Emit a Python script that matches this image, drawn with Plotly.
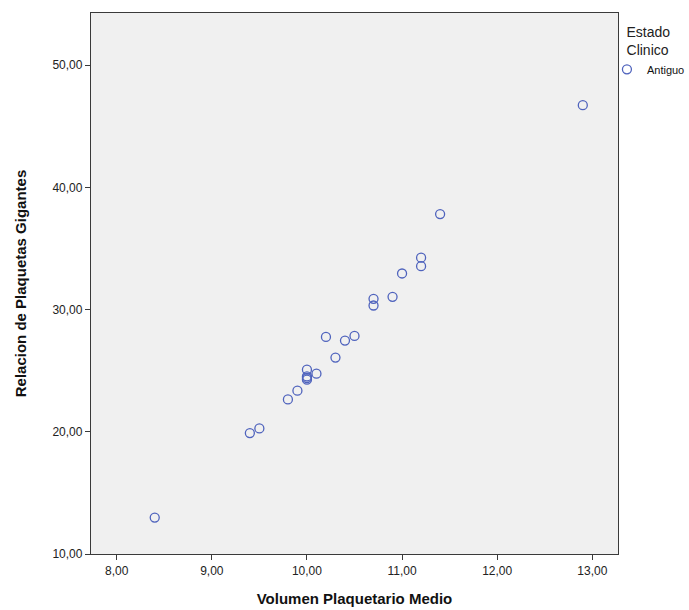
import plotly.graph_objects as go

# Data
volumen_plaquetario_medio = [8.4, 9.4, 9.5, 9.8, 9.9, 10.0, 10.0, 10.0, 10.1, 10.0,
                             10.3, 10.2, 10.4, 10.5, 10.7, 10.7, 10.9, 11.0, 11.2, 11.2,
                             11.4, 12.9]
relacion_plaquetas_gigantes = [12.98, 19.89, 20.27, 22.65, 23.36, 24.26, 24.53, 24.4, 24.75, 25.08,
                               26.07, 27.76, 27.46, 27.84, 30.33, 30.88, 31.04, 32.95, 33.55, 34.24,
                               37.81, 46.72]
serie = "Antiguo"
legend_title = "Estado<br>Clinico"

x_tickvals = [8, 9, 10, 11, 12, 13]
x_ticktext = ["8,00", "9,00", "10,00", "11,00", "12,00", "13,00"]
y_tickvals = [10, 20, 30, 40, 50]
y_ticktext = ["10,00", "20,00", "30,00", "40,00", "50,00"]

FONT = "Liberation Sans, Arial, sans-serif"
BLUE = "#4f63bd"

fig = go.Figure()
fig.add_trace(go.Scatter(
    x=volumen_plaquetario_medio,
    y=relacion_plaquetas_gigantes,
    mode="markers",
    name=serie,
    marker=dict(symbol="circle-open", size=9, color=BLUE, line=dict(width=1.3, color=BLUE)),
    showlegend=True,
))

axis_common = dict(
    showgrid=False, zeroline=False,
    showline=True, linecolor="#3a3a3a", linewidth=1.3, mirror=True,
    ticks="outside", ticklen=5, tickwidth=1.3, tickcolor="#3a3a3a",
    tickfont=dict(family=FONT, size=12, color="#222222"),
)

fig.update_layout(
    width=689, height=610,
    margin=dict(l=91, r=71, t=13, b=56, autoexpand=False),
    paper_bgcolor="white",
    plot_bgcolor="#f0f0f0",
    font=dict(family=FONT, color="#222222"),
    xaxis=dict(
        range=[7.73, 13.27], tickvals=x_tickvals, ticktext=x_ticktext,
        title=dict(text="<b>Volumen Plaquetario Medio</b>", font=dict(family=FONT, size=15, color="#111111"), standoff=16),
        **axis_common,
    ),
    yaxis=dict(
        range=[10, 54.26], tickvals=y_tickvals, ticktext=y_ticktext,
        title=dict(text="<b>Relacion de Plaquetas Gigantes</b>", font=dict(family=FONT, size=15, color="#111111"), standoff=22),
        **axis_common,
    ),
    legend=dict(
        x=0.979, xanchor="left", y=0.99, yanchor="top",
        bgcolor="rgba(0,0,0,0)",
        title=dict(text=legend_title, side="top center", font=dict(family=FONT, size=14, color="#222222")),
        font=dict(family=FONT, size=11, color="#111111"),
        itemwidth=30,
    ),
)

fig.write_html("out.html")
